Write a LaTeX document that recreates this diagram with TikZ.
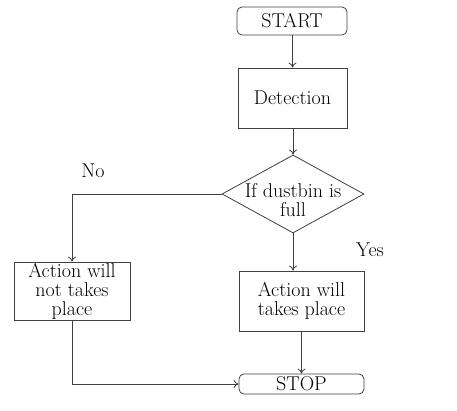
\documentclass[tikz,border=0pt]{standalone}
\usetikzlibrary{shapes.geometric,arrows.meta}
\begin{document}
\begin{tikzpicture}[x=1pt,y=-1pt,
  every node/.style={font=\fontsize{20}{19}\selectfont, text=black},
  boxnode/.style={draw=black!75, line width=0.8pt, inner sep=0pt, align=center},
  termnode/.style={boxnode, rounded corners=5pt},
  decnode/.style={draw=black!75, line width=0.8pt, diamond, inner sep=0pt, minimum width=142pt, minimum height=78pt},
  conn/.style={draw=black!75, line width=0.8pt},
  arr/.style={conn, -{To[length=5pt,width=8pt]}}]
\useasboundingbox (0,0) rectangle (457,411);
\fill[white] (0,0) rectangle (457,411);
\node[termnode, minimum width=110pt, minimum height=28pt] (start) at (292,21) {START};
\node[boxnode, minimum width=109pt, minimum height=60pt] (det) at (292.5,98) {Detection};
\node[decnode] (dec) at (293,194) {};
\node[align=center, inner sep=0pt] (dectext) at (293,200) {If dustbin is\\full};
\node[boxnode, minimum width=116pt, minimum height=58pt] (no) at (72,291) {Action will\\not takes\\place};
\node[boxnode, minimum width=125pt, minimum height=60pt] (yes) at (301.5,301) {Action will\\takes place};
\node[termnode, minimum width=125pt, minimum height=20pt] (stop) at (301.5,384) {STOP};
\node (nolab) at (93,171) {No};
\node (yeslab) at (370,250) {Yes};
\draw[arr] (start.south -| det.north) -- (det.north);
\draw[arr] (det.south -| dec.north) -- (dec.north);
\draw[arr] (dec.west) -| (no.north);
\draw[arr] (dec.south) -- (dec.south |- yes.north);
\draw[arr] (yes.south) -- (stop.north);
\draw[arr] (no.south) |- (stop.west);
\end{tikzpicture}
\end{document}
